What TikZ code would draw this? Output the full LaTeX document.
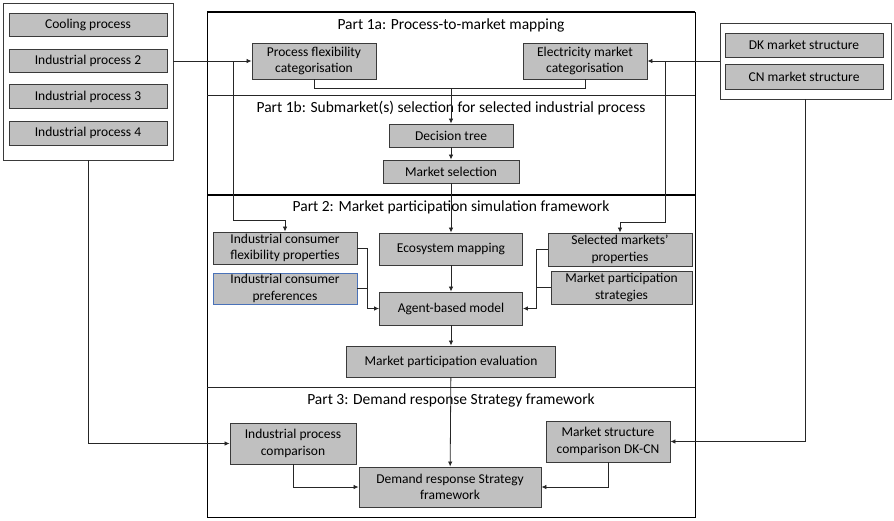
\documentclass[tikz,border=0pt]{standalone}
\usepackage{fontspec}
\setmainfont{Carlito}
\usetikzlibrary{arrows.meta}
\definecolor{boxfill}{HTML}{C0C0C0}
\definecolor{boxline}{HTML}{3A3A3A}
\definecolor{blueline}{HTML}{4A72B8}
\tikzset{
  gbox/.style={draw=boxline, line width=0.9pt, fill=boxfill, inner sep=0pt, align=center,
    font=\fontsize{13.5}{16.5}\selectfont},
  outerbox/.style={draw=boxline, line width=0.9pt, fill=white, inner sep=0pt},
  title/.style={font=\fontsize{15.5}{18}\selectfont, inner sep=0pt},
  conn/.style={draw=black!85, line width=0.8pt},
  arr/.style={conn, -{Latex[length=5pt,width=4.5pt]}},
  frame/.style={draw=black, line width=1pt},
  thickline/.style={draw=black, line width=1.8pt}
}
\begin{document}
\begin{tikzpicture}[x=1pt,y=-1pt]
\useasboundingbox (0,0) rectangle (894,520);
% outer left and right boxes
\node[outerbox, minimum width=170pt, minimum height=157pt] (leftbox) at (88,81.5) {};
\node[outerbox, minimum width=171pt, minimum height=76pt] (rightbox) at (805.5,61) {};
\node[gbox, minimum width=158pt, minimum height=23pt] (cool) at (88,24.5) {Cooling process};
\node[gbox, minimum width=158pt, minimum height=23pt] (ip2) at (88,61) {Industrial process 2};
\node[gbox, minimum width=158pt, minimum height=24pt] (ip3) at (88,96.5) {Industrial process 3};
\node[gbox, minimum width=158pt, minimum height=24pt] (ip4) at (88,133) {Industrial process 4};
\node[gbox, minimum width=158pt, minimum height=24pt] (dk) at (804,45) {DK market structure};
\node[gbox, minimum width=158pt, minimum height=25pt] (cn) at (804,76.5) {CN market structure};
% main frame
\draw[frame] (207,12) rectangle (695,517);
\draw[thickline] (207,12) -- (695,12);
\draw[conn] (207,95) -- (695,95);
\draw[thickline] (207,195) -- (695,195);
\draw[conn] (207,387) -- (695,387);
% titles
\node[title] (t1a) at (451,25) {Part 1a: Process-to-market mapping};
\node[title] (t1b) at (451,108) {Part 1b: Submarket(s) selection for selected industrial process};
\node[title] (t2) at (451,207) {Part 2: Market participation simulation framework};
\node[title] (t3) at (451,400) {Part 3: Demand response Strategy framework};
% Part 1
\node[gbox, minimum width=124pt, minimum height=36pt] (pfc) at (314,61) {Process flexibility\\categorisation};
\node[gbox, minimum width=124pt, minimum height=36pt] (emc) at (585,61) {Electricity market\\categorisation};
\node[gbox, minimum width=124pt, minimum height=23pt] (dt) at (451,135.5) {Decision tree};
\node[gbox, minimum width=136pt, minimum height=23pt] (ms) at (451,171.5) {Market selection};
% Part 2
\node[gbox, minimum width=144pt, minimum height=32pt] (icfp) at (285,248) {Industrial consumer\\flexibility properties};
\node[gbox, minimum width=143pt, minimum height=32pt] (eco) at (451,249) {Ecosystem mapping};
\node[gbox, minimum width=144pt, minimum height=33pt] (smp) at (620,249.5) {Selected markets’\\properties};
\node[gbox, draw=blueline, minimum width=144pt, minimum height=31pt] (icp) at (285,288.5) {Industrial consumer\\preferences};
\node[gbox, minimum width=141pt, minimum height=33pt] (mps) at (621.5,287.5) {Market participation\\strategies};
\node[gbox, minimum width=143pt, minimum height=33pt] (abm) at (451,308.5) {Agent-based model};
\node[gbox, minimum width=209pt, minimum height=31pt] (mpe) at (451,361.5) {Market participation evaluation};
% Part 3
\node[gbox, minimum width=126pt, minimum height=41pt] (ipc) at (293,443.5) {Industrial process\\comparison};
\node[gbox, minimum width=124pt, minimum height=41pt] (msc) at (608,441.5) {Market structure\\comparison DK-CN};
\node[gbox, minimum width=182pt, minimum height=40pt] (drsf) at (450,487) {Demand response Strategy\\framework};
% junction coordinates
\coordinate (jl) at (233,61);
\coordinate (jl2) at (233,220);
\coordinate (jr) at (665,61);
\coordinate (jr2) at (665,222);
\coordinate (j1) at (451,88);
\coordinate (jl3) at (367,308.5);
\coordinate (jr3) at (536,308.5);
% connectors
\draw[arr] (pfc.west -| leftbox.east) -- (pfc.west);
\draw[arr] (jl) -- (jl2) -| (icfp.north);
\draw[arr] (emc.east -| rightbox.west) -- (emc.east);
\draw[arr] (jr) -- (jr2) -| (smp.north);
\draw[conn] (pfc.south) -- (pfc.south |- j1) -- (emc.south |- j1) -- (emc.south);
\draw[arr] (j1) -- (dt.north);
\draw[arr] (dt) -- (ms);
\draw[arr] (ms) -- (eco);
\draw[conn] (icfp.east) -| (jl3);
\draw[conn] (icp.east) -| (jl3);
\draw[arr] (jl3) -- (abm.west);
\draw[conn] (smp.west) -| (jr3);
\draw[conn] (mps.west) -| (jr3);
\draw[arr] (jr3) -- (abm.east);
\draw[arr] (eco) -- (abm);
\draw[arr] (abm) -- (mpe);
\draw[arr] (mpe) -- (drsf);
\draw[arr] (leftbox.south) |- (ipc.west);
\draw[arr] (rightbox.south) |- (msc.east);
\draw[arr] (ipc.south) |- (drsf.west);
\draw[arr] (msc.south) |- (drsf.east);
\end{tikzpicture}
\end{document}
